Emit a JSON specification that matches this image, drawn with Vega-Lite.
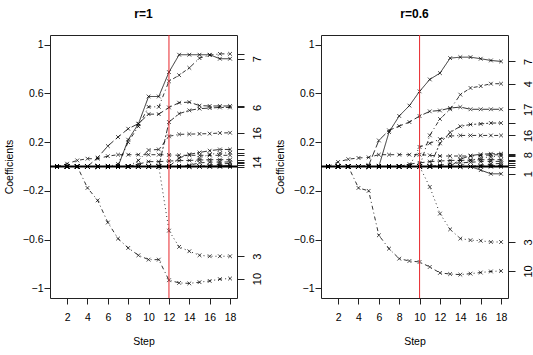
{
  "$schema": "https://vega.github.io/schema/vega-lite/v6.json",
  "padding": {"left": 3, "top": 7, "right": 2, "bottom": 2},
  "datasets": {
    "paths": [
      {"r": "r=1", "step": 1, "v1": 0, "v2": 0, "v3": 0, "v4": 0, "v5": 0, "v6": 0, "v7": 0, "v8": 0, "v9": 0, "v10": 0, "v11": 0, "v12": 0, "v13": 0, "v14": 0, "v15": 0, "v16": 0, "v17": 0},
      {"r": "r=1", "step": 2, "v1": 0, "v2": 0, "v3": 0, "v4": 0, "v5": 0, "v6": 0, "v7": 0, "v8": 0.023, "v9": 0, "v10": 0, "v11": 0, "v12": 0, "v13": 0, "v14": 0, "v15": 0, "v16": 0, "v17": 0},
      {"r": "r=1", "step": 3, "v1": 0, "v2": 0, "v3": 0, "v4": 0, "v5": 0, "v6": 0, "v7": 0, "v8": 0.05, "v9": 0, "v10": 0, "v11": 0, "v12": 0, "v13": 0, "v14": 0, "v15": 0, "v16": 0, "v17": 0},
      {"r": "r=1", "step": 4, "v1": 0, "v2": 0, "v3": 0, "v4": 0, "v5": 0, "v6": 0, "v7": 0, "v8": 0.064, "v9": 0, "v10": -0.176, "v11": 0, "v12": 0, "v13": 0, "v14": 0, "v15": 0, "v16": 0, "v17": 0},
      {"r": "r=1", "step": 5, "v1": 0, "v2": 0, "v3": 0, "v4": 0, "v5": 0, "v6": 0, "v7": 0, "v8": 0.064, "v9": 0, "v10": -0.278, "v11": 0, "v12": 0, "v13": 0, "v14": 0, "v15": 0, "v16": 0, "v17": 0.073},
      {"r": "r=1", "step": 6, "v1": 0, "v2": 0, "v3": 0, "v4": 0, "v5": 0, "v6": 0, "v7": 0, "v8": 0.085, "v9": 0, "v10": -0.46, "v11": 0, "v12": 0, "v13": 0, "v14": 0, "v15": 0, "v16": 0, "v17": 0.168},
      {"r": "r=1", "step": 7, "v1": 0, "v2": 0, "v3": 0, "v4": 0.02, "v5": 0, "v6": 0, "v7": 0, "v8": 0.097, "v9": 0, "v10": -0.592, "v11": 0, "v12": 0, "v13": 0, "v14": 0, "v15": 0, "v16": 0, "v17": 0.242},
      {"r": "r=1", "step": 8, "v1": 0, "v2": 0, "v3": 0, "v4": 0.2, "v5": 0, "v6": 0, "v7": 0.22, "v8": 0.097, "v9": 0, "v10": -0.669, "v11": 0, "v12": 0, "v13": 0, "v14": 0, "v15": 0, "v16": 0, "v17": 0.31},
      {"r": "r=1", "step": 9, "v1": 0, "v2": 0, "v3": 0, "v4": 0.33, "v5": 0.02, "v6": 0, "v7": 0.35, "v8": 0.097, "v9": 0, "v10": -0.729, "v11": 0, "v12": 0, "v13": 0, "v14": 0, "v15": 0, "v16": 0.05, "v17": 0.352},
      {"r": "r=1", "step": 10, "v1": 0, "v2": 0, "v3": 0, "v4": 0.49, "v5": 0.04, "v6": 0, "v7": 0.575, "v8": 0.097, "v9": 0, "v10": -0.765, "v11": 0, "v12": 0, "v13": 0, "v14": 0, "v15": 0, "v16": 0.135, "v17": 0.43},
      {"r": "r=1", "step": 11, "v1": 0, "v2": 0, "v3": 0, "v4": 0.49, "v5": 0.04, "v6": 0, "v7": 0.575, "v8": 0.097, "v9": 0, "v10": -0.765, "v11": 0, "v12": 0, "v13": 0, "v14": 0, "v15": 0, "v16": 0.14, "v17": 0.43},
      {"r": "r=1", "step": 12, "v1": 0, "v2": 0, "v3": -0.527, "v4": 0.7, "v5": 0.045, "v6": 0.365, "v7": 0.775, "v8": 0.095, "v9": 0, "v10": -0.934, "v11": 0, "v12": 0, "v13": 0, "v14": 0, "v15": 0, "v16": 0.248, "v17": 0.485},
      {"r": "r=1", "step": 13, "v1": 0, "v2": 0, "v3": -0.66, "v4": 0.75, "v5": 0.048, "v6": 0.434, "v7": 0.918, "v8": 0.092, "v9": 0, "v10": -0.956, "v11": 0, "v12": 0.07, "v13": 0, "v14": 0, "v15": 0, "v16": 0.264, "v17": 0.524},
      {"r": "r=1", "step": 14, "v1": 0, "v2": 0, "v3": -0.696, "v4": 0.81, "v5": 0.05, "v6": 0.461, "v7": 0.918, "v8": 0.092, "v9": 0, "v10": -0.96, "v11": 0, "v12": 0.1, "v13": 0, "v14": 0.01, "v15": 0, "v16": 0.266, "v17": 0.529},
      {"r": "r=1", "step": 15, "v1": 0, "v2": 0, "v3": -0.729, "v4": 0.89, "v5": 0.053, "v6": 0.475, "v7": 0.918, "v8": 0.092, "v9": 0.07, "v10": -0.95, "v11": 0, "v12": 0.115, "v13": 0, "v14": 0.03, "v15": 0, "v16": 0.268, "v17": 0.5},
      {"r": "r=1", "step": 16, "v1": 0, "v2": 0.01, "v3": -0.737, "v4": 0.915, "v5": 0.056, "v6": 0.48, "v7": 0.918, "v8": 0.092, "v9": 0.1, "v10": -0.94, "v11": 0, "v12": 0.13, "v13": 0, "v14": 0.035, "v15": 0, "v16": 0.27, "v17": 0.497},
      {"r": "r=1", "step": 17, "v1": 0.005, "v2": 0.02, "v3": -0.737, "v4": 0.925, "v5": 0.056, "v6": 0.485, "v7": 0.885, "v8": 0.092, "v9": 0.11, "v10": -0.925, "v11": 0, "v12": 0.14, "v13": 0, "v14": 0.037, "v15": 0, "v16": 0.275, "v17": 0.497},
      {"r": "r=1", "step": 18, "v1": 0.01, "v2": 0.026, "v3": -0.737, "v4": 0.925, "v5": 0.056, "v6": 0.485, "v7": 0.885, "v8": 0.092, "v9": 0.113, "v10": -0.92, "v11": 0, "v12": 0.14, "v13": 0, "v14": 0.037, "v15": 0, "v16": 0.277, "v17": 0.497},
      {"r": "r=0.6", "step": 1, "v1": 0, "v2": 0, "v3": 0, "v4": 0, "v5": 0, "v6": 0, "v7": 0, "v8": 0, "v9": 0, "v10": 0, "v11": 0, "v12": 0, "v13": 0, "v14": 0, "v15": 0, "v16": 0, "v17": 0},
      {"r": "r=0.6", "step": 2, "v1": 0, "v2": 0, "v3": 0, "v4": 0, "v5": 0, "v6": 0, "v7": 0, "v8": 0.037, "v9": 0, "v10": 0, "v11": 0, "v12": 0, "v13": 0, "v14": 0, "v15": 0, "v16": 0, "v17": 0},
      {"r": "r=0.6", "step": 3, "v1": 0, "v2": 0, "v3": 0, "v4": 0, "v5": 0, "v6": 0, "v7": 0, "v8": 0.06, "v9": 0, "v10": 0, "v11": 0, "v12": 0, "v13": 0, "v14": 0, "v15": 0, "v16": 0, "v17": 0},
      {"r": "r=0.6", "step": 4, "v1": 0, "v2": 0, "v3": 0, "v4": 0, "v5": 0, "v6": 0, "v7": 0, "v8": 0.07, "v9": 0, "v10": -0.176, "v11": 0, "v12": 0, "v13": 0, "v14": 0, "v15": 0, "v16": 0, "v17": 0},
      {"r": "r=0.6", "step": 5, "v1": 0, "v2": 0, "v3": 0, "v4": 0, "v5": 0, "v6": 0, "v7": 0, "v8": 0.075, "v9": 0, "v10": -0.2, "v11": 0, "v12": 0, "v13": 0, "v14": 0, "v15": 0, "v16": 0, "v17": 0.01},
      {"r": "r=0.6", "step": 6, "v1": 0, "v2": 0, "v3": 0, "v4": 0, "v5": 0, "v6": 0, "v7": 0, "v8": 0.097, "v9": 0, "v10": -0.565, "v11": 0, "v12": 0, "v13": 0, "v14": 0, "v15": 0, "v16": 0, "v17": 0.214},
      {"r": "r=0.6", "step": 7, "v1": 0, "v2": 0, "v3": 0, "v4": 0, "v5": 0, "v6": 0, "v7": 0.283, "v8": 0.097, "v9": 0, "v10": -0.675, "v11": 0, "v12": 0, "v13": 0, "v14": 0, "v15": 0, "v16": 0, "v17": 0.297},
      {"r": "r=0.6", "step": 8, "v1": 0, "v2": 0, "v3": 0, "v4": 0, "v5": 0, "v6": 0, "v7": 0.415, "v8": 0.097, "v9": 0, "v10": -0.757, "v11": 0, "v12": 0, "v13": 0, "v14": 0, "v15": 0, "v16": 0, "v17": 0.332},
      {"r": "r=0.6", "step": 9, "v1": 0, "v2": 0, "v3": 0, "v4": 0, "v5": 0.02, "v6": 0, "v7": 0.5, "v8": 0.097, "v9": 0, "v10": -0.776, "v11": 0, "v12": 0, "v13": 0, "v14": 0, "v15": 0, "v16": 0, "v17": 0.365},
      {"r": "r=0.6", "step": 10, "v1": 0, "v2": 0, "v3": 0, "v4": 0, "v5": 0.03, "v6": 0, "v7": 0.617, "v8": 0.097, "v9": 0, "v10": -0.784, "v11": 0, "v12": 0, "v13": 0, "v14": 0, "v15": 0, "v16": 0.16, "v17": 0.414},
      {"r": "r=0.6", "step": 11, "v1": 0, "v2": 0, "v3": -0.168, "v4": 0.256, "v5": 0.04, "v6": 0, "v7": 0.715, "v8": 0.092, "v9": 0, "v10": -0.825, "v11": 0, "v12": 0, "v13": 0, "v14": 0, "v15": 0, "v16": 0.19, "v17": 0.453},
      {"r": "r=0.6", "step": 12, "v1": 0, "v2": 0, "v3": -0.387, "v4": 0.39, "v5": 0.045, "v6": 0.19, "v7": 0.767, "v8": 0.086, "v9": 0, "v10": -0.874, "v11": 0, "v12": 0, "v13": 0, "v14": 0.01, "v15": 0, "v16": 0.225, "v17": 0.46},
      {"r": "r=0.6", "step": 13, "v1": 0, "v2": 0, "v3": -0.516, "v4": 0.47, "v5": 0.05, "v6": 0.28, "v7": 0.89, "v8": 0.086, "v9": 0, "v10": -0.883, "v11": 0, "v12": 0, "v13": 0, "v14": 0.025, "v15": 0, "v16": 0.25, "v17": 0.48},
      {"r": "r=0.6", "step": 14, "v1": 0, "v2": 0, "v3": -0.592, "v4": 0.59, "v5": 0.05, "v6": 0.33, "v7": 0.898, "v8": 0.086, "v9": 0, "v10": -0.888, "v11": 0, "v12": 0.06, "v13": 0, "v14": 0.03, "v15": 0, "v16": 0.255, "v17": 0.488},
      {"r": "r=0.6", "step": 15, "v1": 0, "v2": 0, "v3": -0.605, "v4": 0.645, "v5": 0.053, "v6": 0.345, "v7": 0.898, "v8": 0.086, "v9": 0.05, "v10": -0.88, "v11": 0, "v12": 0.09, "v13": 0, "v14": 0.035, "v15": 0, "v16": 0.255, "v17": 0.47},
      {"r": "r=0.6", "step": 16, "v1": -0.03, "v2": 0.01, "v3": -0.61, "v4": 0.66, "v5": 0.055, "v6": 0.35, "v7": 0.885, "v8": 0.09, "v9": 0.07, "v10": -0.871, "v11": 0, "v12": 0.1, "v13": 0, "v14": 0.04, "v15": 0, "v16": 0.255, "v17": 0.47},
      {"r": "r=0.6", "step": 17, "v1": -0.06, "v2": 0.02, "v3": -0.62, "v4": 0.68, "v5": 0.056, "v6": 0.357, "v7": 0.871, "v8": 0.095, "v9": 0.08, "v10": -0.862, "v11": 0.005, "v12": 0.105, "v13": 0, "v14": 0.042, "v15": 0, "v16": 0.255, "v17": 0.47},
      {"r": "r=0.6", "step": 18, "v1": -0.06, "v2": 0.026, "v3": -0.62, "v4": 0.68, "v5": 0.056, "v6": 0.357, "v7": 0.863, "v8": 0.097, "v9": 0.086, "v10": -0.858, "v11": 0.01, "v12": 0.105, "v13": 0, "v14": 0.042, "v15": 0, "v16": 0.255, "v17": 0.47}
    ],
    "cuts": [
      {"r": "r=1", "step": 12},
      {"r": "r=0.6", "step": 10}
    ],
    "zero": [{"coef": 0}]
  },
  "spacing": 84,
  "bounds": "flush",
  "hconcat": [
    {
      "width": 187,
      "height": 263,
      "title": "r=1",
      "resolve": {"axis": {"y": "independent"}},
      "layer": [
        {
          "data": {"name": "paths"},
          "transform": [
            {"filter": "datum.r == 'r=1'"},
            {"fold": ["v1", "v2", "v3", "v4", "v5", "v6", "v7", "v8", "v9", "v10", "v11", "v12", "v13", "v14", "v15", "v16", "v17"], "as": ["variable", "coef"]}
          ],
          "mark": {"type": "line", "color": "black", "strokeWidth": 0.8},
          "encoding": {
            "x": {"field": "step", "type": "quantitative", "scale": {"domain": [0.32, 18.68], "nice": false, "zero": false},
              "axis": {"values": [2, 4, 6, 8, 10, 12, 14, 16, 18], "title": "Step", "tickSize": 6, "labelPadding": 8, "titlePadding": 14, "labelOverlap": false}},
            "y": {"field": "coef", "type": "quantitative", "scale": {"domain": [-1.08, 1.08], "nice": false, "zero": false},
              "axis": {"orient": "left", "values": [-1, -0.6, -0.2, 0.2, 0.6, 1], "format": "~g", "title": "Coefficients", "tickSize": 6, "labelPadding": 1, "titlePadding": 8}},
            "strokeDash": {"field": "variable", "type": "nominal", "legend": null,
              "scale": {"domain": ["v1", "v2", "v3", "v4", "v5", "v6", "v7", "v8", "v9", "v10", "v11", "v12", "v13", "v14", "v15", "v16", "v17"],
                "range": [[1, 0], [4, 4], [1, 3], [1, 3, 4, 3], [7, 3], [2, 2, 6, 2], [1, 0], [4, 4], [1, 3], [1, 3, 4, 3], [7, 3], [2, 2, 6, 2], [1, 0], [4, 4], [1, 3], [1, 3, 4, 3], [7, 3]]}},
            "order": {"field": "step", "type": "quantitative"}
          }
        },
        {
          "data": {"name": "paths"},
          "transform": [
            {"filter": "datum.r == 'r=1'"},
            {"fold": ["v1", "v2", "v3", "v4", "v5", "v6", "v7", "v8", "v9", "v10", "v11", "v12", "v13", "v14", "v15", "v16", "v17"], "as": ["variable", "coef"]}
          ],
          "mark": {"type": "point", "shape": "M-1,-1L1,1M-1,1L1,-1", "size": 14, "filled": false, "color": "black", "strokeWidth": 0.7, "opacity": 1},
          "encoding": {
            "x": {"field": "step", "type": "quantitative",
              "axis": {"values": [2, 4, 6, 8, 10, 12, 14, 16, 18], "title": "Step", "tickSize": 6, "labelPadding": 8, "titlePadding": 14, "labelOverlap": false}},
            "y": {"field": "coef", "type": "quantitative",
              "axis": {"orient": "right", "title": null, "values": [0.925, 0.885, 0.497, 0.485, 0.277, 0.14, 0.113, 0.092, 0.056, 0.037, 0.026, 0.01, 0, -0.737, -0.92],
                "labelExpr": "datum.value == 0.885 ? '7' : datum.value == 0.485 ? '6' : datum.value == 0.277 ? '16' : datum.value == 0.037 ? '14' : datum.value == -0.737 ? '3' : datum.value == -0.92 ? '10' : ''",
                "tickSize": 7, "labelAngle": 270, "labelAlign": "center", "labelBaseline": "top", "labelPadding": 7, "labelOverlap": false, "labelFontSize": 11}}
          }
        },
        {
          "data": {"name": "zero"},
          "mark": {"type": "rule", "color": "black", "strokeWidth": 2},
          "encoding": {"y": {"field": "coef", "type": "quantitative", "axis": null}}
        },
        {
          "data": {"name": "cuts"},
          "transform": [{"filter": "datum.r == 'r=1'"}],
          "mark": {"type": "rule", "color": "#e8262b", "strokeWidth": 1},
          "encoding": {"x": {"field": "step", "type": "quantitative",
            "axis": {"values": [2, 4, 6, 8, 10, 12, 14, 16, 18], "title": "Step", "tickSize": 6, "labelPadding": 8, "titlePadding": 14, "labelOverlap": false}}}
        }
      ]
    },
    {
      "width": 187,
      "height": 263,
      "title": "r=0.6",
      "resolve": {"axis": {"y": "independent"}},
      "layer": [
        {
          "data": {"name": "paths"},
          "transform": [
            {"filter": "datum.r == 'r=0.6'"},
            {"fold": ["v1", "v2", "v3", "v4", "v5", "v6", "v7", "v8", "v9", "v10", "v11", "v12", "v13", "v14", "v15", "v16", "v17"], "as": ["variable", "coef"]}
          ],
          "mark": {"type": "line", "color": "black", "strokeWidth": 0.8},
          "encoding": {
            "x": {"field": "step", "type": "quantitative", "scale": {"domain": [0.32, 18.68], "nice": false, "zero": false},
              "axis": {"values": [2, 4, 6, 8, 10, 12, 14, 16, 18], "title": "Step", "tickSize": 6, "labelPadding": 8, "titlePadding": 14, "labelOverlap": false}},
            "y": {"field": "coef", "type": "quantitative", "scale": {"domain": [-1.08, 1.08], "nice": false, "zero": false},
              "axis": {"orient": "left", "values": [-1, -0.6, -0.2, 0.2, 0.6, 1], "format": "~g", "title": "Coefficients", "tickSize": 6, "labelPadding": 1, "titlePadding": 8}},
            "strokeDash": {"field": "variable", "type": "nominal", "legend": null,
              "scale": {"domain": ["v1", "v2", "v3", "v4", "v5", "v6", "v7", "v8", "v9", "v10", "v11", "v12", "v13", "v14", "v15", "v16", "v17"],
                "range": [[1, 0], [4, 4], [1, 3], [1, 3, 4, 3], [7, 3], [2, 2, 6, 2], [1, 0], [4, 4], [1, 3], [1, 3, 4, 3], [7, 3], [2, 2, 6, 2], [1, 0], [4, 4], [1, 3], [1, 3, 4, 3], [7, 3]]}},
            "order": {"field": "step", "type": "quantitative"}
          }
        },
        {
          "data": {"name": "paths"},
          "transform": [
            {"filter": "datum.r == 'r=0.6'"},
            {"fold": ["v1", "v2", "v3", "v4", "v5", "v6", "v7", "v8", "v9", "v10", "v11", "v12", "v13", "v14", "v15", "v16", "v17"], "as": ["variable", "coef"]}
          ],
          "mark": {"type": "point", "shape": "M-1,-1L1,1M-1,1L1,-1", "size": 14, "filled": false, "color": "black", "strokeWidth": 0.7, "opacity": 1},
          "encoding": {
            "x": {"field": "step", "type": "quantitative",
              "axis": {"values": [2, 4, 6, 8, 10, 12, 14, 16, 18], "title": "Step", "tickSize": 6, "labelPadding": 8, "titlePadding": 14, "labelOverlap": false}},
            "y": {"field": "coef", "type": "quantitative",
              "axis": {"orient": "right", "title": null, "values": [0.863, 0.68, 0.47, 0.357, 0.255, 0.105, 0.097, 0.086, 0.056, 0.042, 0.026, 0.01, 0, -0.06, -0.62, -0.858],
                "labelExpr": "datum.value == 0.863 ? '7' : datum.value == 0.68 ? '4' : datum.value == 0.47 ? '17' : datum.value == 0.255 ? '16' : datum.value == 0.097 ? '8' : datum.value == -0.06 ? '1' : datum.value == -0.62 ? '3' : datum.value == -0.858 ? '10' : ''",
                "tickSize": 7, "labelAngle": 270, "labelAlign": "center", "labelBaseline": "top", "labelPadding": 7, "labelOverlap": false, "labelFontSize": 11}}
          }
        },
        {
          "data": {"name": "zero"},
          "mark": {"type": "rule", "color": "black", "strokeWidth": 2},
          "encoding": {"y": {"field": "coef", "type": "quantitative", "axis": null}}
        },
        {
          "data": {"name": "cuts"},
          "transform": [{"filter": "datum.r == 'r=0.6'"}],
          "mark": {"type": "rule", "color": "#e8262b", "strokeWidth": 1},
          "encoding": {"x": {"field": "step", "type": "quantitative",
            "axis": {"values": [2, 4, 6, 8, 10, 12, 14, 16, 18], "title": "Step", "tickSize": 6, "labelPadding": 8, "titlePadding": 14, "labelOverlap": false}}}
        }
      ]
    }
  ],
  "config": {
    "view": {"stroke": "#222222", "strokeWidth": 1},
    "axis": {"domain": false, "grid": false, "labelOverlap": false, "labelFont": "Liberation Sans", "titleFont": "Liberation Sans", "labelFontSize": 10.5, "titleFontSize": 10.5, "titleFontWeight": "normal", "labelColor": "black", "titleColor": "black", "tickColor": "#222222", "tickWidth": 1},
    "axisX": {"labelOverlap": false},
    "title": {"font": "Liberation Sans", "fontSize": 12, "fontWeight": "bold", "color": "black", "offset": 14}
  }
}
